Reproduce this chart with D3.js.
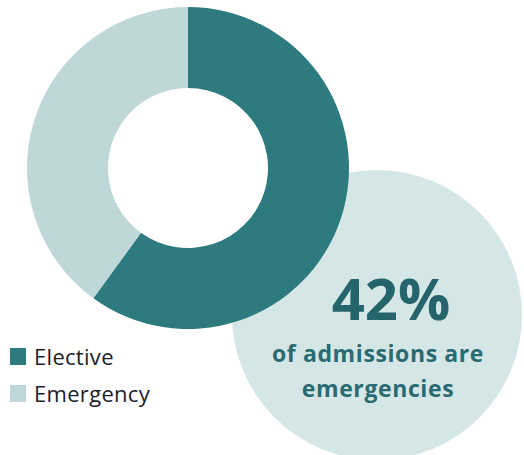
<!DOCTYPE html>
<html>
<head>
<meta charset="utf-8">
<script src="https://cdn.jsdelivr.net/npm/d3@7"></script>
<style>
  body { margin: 0; background: #fff; }
  svg { display: block; }
</style>
</head>
<body>
<div id="chart"></div>
<script>
// admissions split
let categories = ["Elective", "Emergency"];
let values = [60, 40];
let colors = ["#2e7b7f", "#bfd7d9"];
let headline = "42%";
let subLines = ["of admissions are", "emergencies"];

let svgWidth = 524;
let svgHeight = 455;

let svg = d3.select("#chart")
    .append("svg")
    .attr("width", svgWidth)
    .attr("height", svgHeight);

// background bubble behind the callout
svg.append("circle")
    .attr("cx", 377)
    .attr("cy", 315)
    .attr("r", 145)
    .attr("fill", "#d5e6e6");

// donut
let pie = d3.pie().sort(null).value(d => d);
let arc = d3.arc().innerRadius(80).outerRadius(161);

let donut = svg.append("g")
    .attr("transform", "translate(188,168)");

donut.selectAll("path")
    .data(pie(values))
    .enter()
    .append("path")
    .attr("d", arc)
    .attr("fill", (d, i) => colors[i]);

// callout text
svg.append("text")
    .attr("x", 391)
    .attr("y", 320)
    .attr("text-anchor", "middle")
    .attr("font-family", "'Open Sans', sans-serif")
    .attr("font-weight", "bold")
    .attr("font-size", "58px")
    .attr("fill", "#25646b")
    .text(headline);

svg.selectAll(".sub")
    .data(subLines)
    .enter()
    .append("text")
    .attr("class", "sub")
    .attr("x", 378)
    .attr("y", (d, i) => 362 + i * 35)
    .attr("text-anchor", "middle")
    .attr("font-family", "'Open Sans', sans-serif")
    .attr("font-weight", "bold")
    .attr("font-size", "23px")
    .attr("letter-spacing", "0.6px")
    .attr("fill", "#2a6b72")
    .text(d => d);

// legend
let legend = svg.selectAll(".legend")
    .data(categories)
    .enter()
    .append("g")
    .attr("class", "legend")
    .attr("transform", (d, i) => `translate(10, ${348 + i * 37})`);

legend.append("rect")
    .attr("width", 16)
    .attr("height", 17)
    .attr("fill", (d, i) => colors[i]);

legend.append("text")
    .attr("x", 24)
    .attr("y", 17)
    .attr("font-family", "'Open Sans', sans-serif")
    .attr("font-size", "22px")
    .attr("letter-spacing", "0.3px")
    .attr("fill", "#1c1c2a")
    .text(d => d);
</script>
</body>
</html>
